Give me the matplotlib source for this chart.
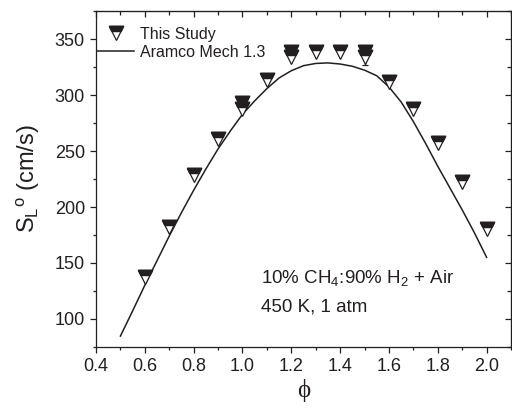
import matplotlib
matplotlib.use("Agg")
import matplotlib.pyplot as plt
from matplotlib.ticker import MultipleLocator, FixedLocator
from matplotlib.legend_handler import HandlerTuple

plt.rcParams["font.family"] = ["Liberation Sans", "DejaVu Sans"]
plt.rcParams["mathtext.fontset"] = "custom"
plt.rcParams["mathtext.rm"] = "Liberation Sans"
plt.rcParams["mathtext.it"] = "Liberation Sans:italic"

INK = "#231f20"

# measured flame speeds (this study)
phi_exp = [0.6, 0.7, 0.8, 0.9, 1.0, 1.0, 1.1, 1.2, 1.2, 1.3, 1.4, 1.5, 1.5,
           1.6, 1.7, 1.8, 1.9, 2.0]
sl_exp = [137, 182, 229, 261, 293, 288, 314, 339, 334, 339, 339, 339, 334,
          312, 287.5, 257, 222.5, 180]

# error bar shown on the repeated phi = 1.5 point
phi_err = [1.5]
sl_err = [334]
err = [7]

# Aramco Mech 1.3 prediction
phi_model = [0.50, 0.55, 0.60, 0.65, 0.70, 0.75, 0.80, 0.85, 0.90, 0.95,
             1.00, 1.05, 1.10, 1.15, 1.20, 1.25, 1.30, 1.35, 1.40, 1.45,
             1.50, 1.55, 1.60, 1.65, 1.70, 1.75, 1.80, 1.85, 1.90, 1.95, 2.00]
sl_model = [84.5, 107, 130, 152, 174, 195, 215, 234, 252, 268,
            283, 295, 306, 315.5, 322, 326.5, 328.5, 329, 328, 326,
            322.5, 317.5, 307.5, 294, 276.5, 257, 236.5, 217, 197.5, 177, 155]

xticks = [0.4, 0.6, 0.8, 1.0, 1.2, 1.4, 1.6, 1.8, 2.0]
yticks = [100, 150, 200, 250, 300, 350]

fig = plt.figure(figsize=(5.12, 4.11), dpi=100)
ax = fig.add_axes([96 / 512, 1 - 346.7 / 411, (511 - 96) / 512, (346.7 - 11.5) / 411])

line, = ax.plot(phi_model, sl_model, color=INK, lw=1.1, zorder=2)

ax.errorbar(phi_err, sl_err, yerr=err, fmt="none", ecolor=INK, elinewidth=0.9,
            capsize=2.5, capthick=0.9, zorder=3)

# open down-triangle with a solid band across its top
band = [(-1, 1), (1, 1), (0.63, 0.26), (-0.63, 0.26), (-1, 1)]
ms = 10.5
tri, = ax.plot(phi_exp, sl_exp, ls="none", marker="v", ms=ms, mfc="white",
               mec=INK, mew=0.9, zorder=4)
top, = ax.plot(phi_exp, sl_exp, ls="none", marker=band, ms=ms, mfc=INK,
               mec=INK, mew=0.9, zorder=5)

ax.set_xlim(0.4, 2.1)
ax.set_ylim(75, 375)
ax.xaxis.set_major_locator(FixedLocator(xticks))
ax.xaxis.set_minor_locator(MultipleLocator(0.1))
ax.yaxis.set_major_locator(FixedLocator(yticks))
ax.yaxis.set_minor_locator(MultipleLocator(25))
ax.xaxis.set_major_formatter(plt.FuncFormatter(lambda v, p: f"{v:.1f}"))

for sp in ax.spines.values():
    sp.set_linewidth(0.9)
    sp.set_color(INK)

ax.tick_params(which="both", direction="out", colors=INK, labelsize=13, width=0.9)
ax.tick_params(which="major", length=4.5)
ax.tick_params(which="minor", length=2.5)

# inward ticks on the top and right frame
sx = ax.secondary_xaxis("top")
sx.xaxis.set_major_locator(FixedLocator(xticks))
sx.xaxis.set_minor_locator(MultipleLocator(0.1))
sx.tick_params(which="both", direction="in", labeltop=False, colors=INK, width=0.9)
sx.tick_params(which="major", length=4.5)
sx.tick_params(which="minor", length=3)
sy = ax.secondary_yaxis("right")
sy.yaxis.set_major_locator(FixedLocator(yticks))
sy.yaxis.set_minor_locator(MultipleLocator(25))
sy.tick_params(which="both", direction="in", labelright=False, colors=INK, width=0.9)
sy.tick_params(which="major", length=4.5)
sy.tick_params(which="minor", length=3)

ax.set_ylabel(r"S$_{\rm L}$$^{\rm o}$ (cm/s)", fontsize=17, color=INK, labelpad=9)
ax.set_xlabel("\u03d5", fontsize=18, color=INK, family=["Liberation Serif", "DejaVu Serif"],
              labelpad=3)

ax.text(1.076, 132.4, r"10% CH$_4$:90% H$_2$ + Air", fontsize=13.5, color=INK,
        va="baseline", ha="left")
ax.text(1.076, 106.8, "450 K, 1 atm", fontsize=13.5, color=INK,
        va="baseline", ha="left")

leg = ax.legend([(tri, top), line], ["This Study", "Aramco Mech 1.3"],
                handler_map={tuple: HandlerTuple(ndivide=1)},
                loc="upper left", bbox_to_anchor=(0.003, 0.955), frameon=False,
                fontsize=11.5, handlelength=2.3, handletextpad=0.4,
                labelspacing=0.2, borderpad=0, borderaxespad=0)
for t in leg.get_texts():
    t.set_color(INK)

fig.savefig("out.png", dpi=100)
